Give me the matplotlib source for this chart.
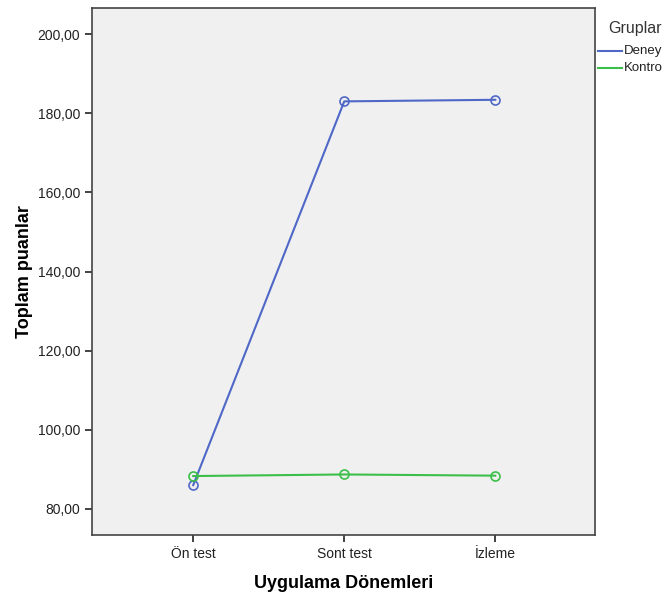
import matplotlib.pyplot as plt
from matplotlib.lines import Line2D
from matplotlib.ticker import FuncFormatter

plt.rcParams['font.family'] = ['Liberation Sans', 'DejaVu Sans']

donemler = ["Ön test", "Sont test", "İzleme"]
deney = [86.0, 183.0, 183.4]
kontrol = [88.3, 88.7, 88.4]
gruplar = ["Deney", "Kontro"]
renkler = ["#4f68c8", "#3cbf4a"]

fig = plt.figure(figsize=(6.67, 5.96), dpi=100)
ax = fig.add_axes([92/667, 1 - 535/596, (595-92)/667, (535-8)/596])
ax.set_facecolor("#f0f0f0")

x = range(len(donemler))
for seri, renk in zip([deney, kontrol], renkler):
    ax.plot(x, seri, color=renk, lw=1.5, marker="o", ms=6.5,
            mfc="none", mec=renk, mew=1.2)

ax.set_xlim(-0.67, 2.66)
ax.set_ylim(73.4, 206.6)
ax.set_yticks([80, 100, 120, 140, 160, 180, 200])
ax.yaxis.set_major_formatter(FuncFormatter(lambda v, p: f"{v:.2f}".replace(".", ",")))
ax.set_xticks(list(x))
ax.set_xticklabels(donemler)
ax.tick_params(colors="#222222", labelsize=10, length=5, width=1.2)
for s in ax.spines.values():
    s.set_color("#444444")
    s.set_linewidth(1.2)

ax.set_xlabel("Uygulama Dönemleri", fontsize=13, fontweight="bold", labelpad=10)
ax.set_ylabel("Toplam puanlar", fontsize=13, fontweight="bold", labelpad=3)

# legend at right outside the plot
fig.text(608/667, 1 - 28/596, "Gruplar", fontsize=11.5, color="#333333", va="center")
for i, (ad, renk) in enumerate(zip(gruplar, renkler)):
    yy = 1 - (51 + 17*i)/596
    fig.add_artist(Line2D([598/667, 622/667], [yy, yy], color=renk, lw=1.5,
                          transform=fig.transFigure))
    fig.text(624/667, yy, ad, fontsize=9.5, color="#222222", va="center")

fig.savefig("out.png", dpi=100)
